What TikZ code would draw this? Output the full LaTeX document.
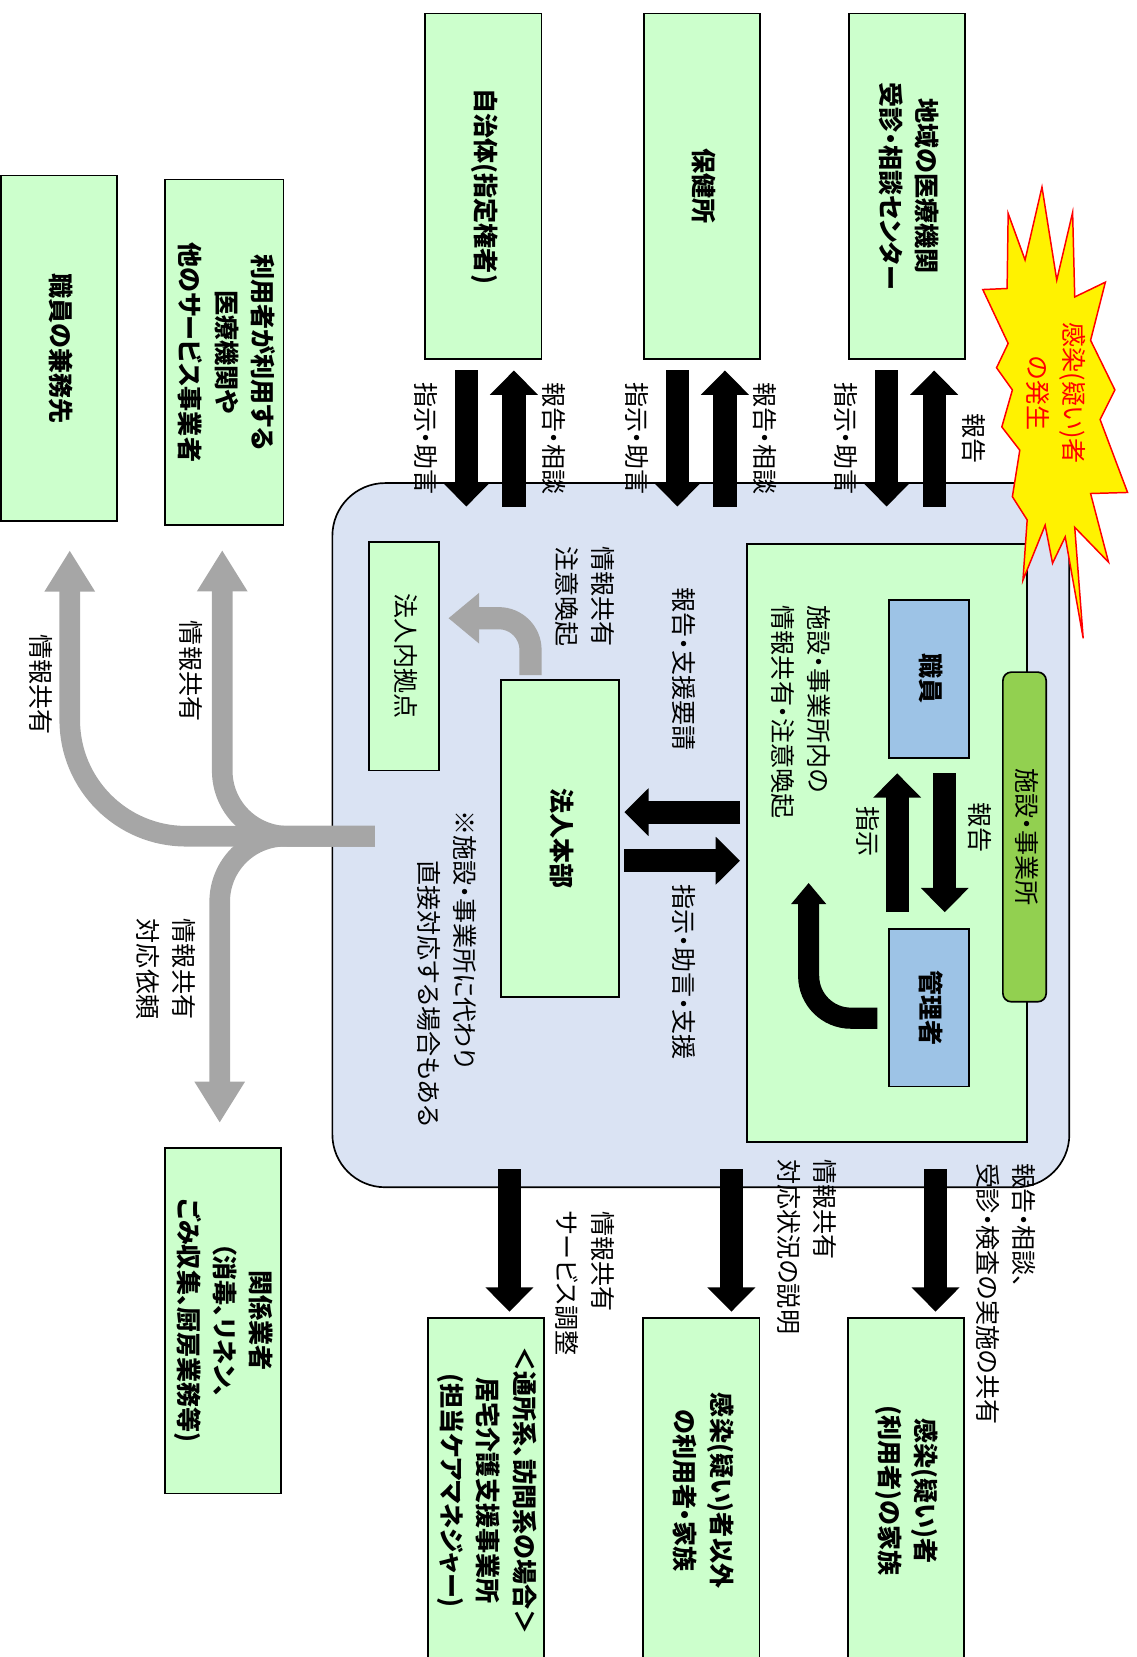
\documentclass[tikz,border=0pt]{standalone}
\usepackage{fontspec}
\setmainfont{Noto Sans CJK JP}[RawFeature=+palt]
\usepackage{graphicx}
\usetikzlibrary{arrows.meta,positioning,calc}

\definecolor{boxgreen}{HTML}{CCFFCC}
\definecolor{orgblue}{HTML}{DAE3F3}
\definecolor{staffblue}{HTML}{9DC3E6}
\definecolor{tabgreen}{HTML}{92D050}
\definecolor{flowgray}{HTML}{A6A6A6}

\newcommand{\fs}{\fontsize{13.5}{19.5}\selectfont}
\newcommand{\vt}[2][c]{\rotatebox{-90}{\begin{tabular}{@{}#1@{}}#2\end{tabular}}}

\begin{document}
\begin{tikzpicture}[
  x=0.02cm, y=-0.02cm,
  box/.style={draw,line width=0.9pt,fill=boxgreen,inner sep=0pt,font=\fs\bfseries,minimum width=2.2cm,minimum height=6.54cm},
  staff/.style={draw,line width=0.9pt,fill=staffblue,inner sep=0pt,font=\fs\bfseries,minimum width=1.52cm,minimum height=2.98cm},
  lbl/.style={inner sep=0pt,outer sep=0pt,font=\fs},
  blk/.style={line width=0.44cm,-{Triangle[width=0.88cm,length=0.46cm]}},
  tree/.style={draw=flowgray,line width=0.39cm,-{Triangle[width=0.9cm,length=0.78cm]}},
]
\useasboundingbox (0,0) rectangle (1075,1568);

% outside boxes
\node[box] (jichitai) at (457.3,176.3) {\vt{自治体(指定権者)}};
\node[box] (hokenjo) at (664.4,176.3) {\vt{保健所}};
\node[box] (iryo) at (858.3,176.3) {\vt{地域の医療機関\\受診・相談センター}};
\node[box] (kenmu) at (56,329.5) {\vt{職員の兼務先}};
\node[box,minimum width=2.24cm] (riyosha) at (212.3,333.3) {\vt{利用者が利用する\\医療機関や\\他のサービス事業者}};
\node[box] (kazoku) at (857.3,1410.5) {\vt{感染(疑い)者\\(利用者)の家族}};
\node[box] (igai) at (663.6,1410.5) {\vt{感染(疑い)者以外\\の利用者・家族}};
\node[box] (kyotaku) at (460.1,1410.5) {\vt{＜通所系、訪問系の場合＞\\居宅介護支援事業所\\(担当ケアマネジャー)}};
\node[box] (gyosha) at (210.9,1249.8) {\vt{関係業者\\（消毒、リネン、\\ごみ収集、厨房業務等)}};

% corporation
\node[draw,line width=0.9pt,fill=orgblue,rounded corners=1cm,minimum width=13.95cm,minimum height=13.33cm] (org) at (663.2,790.3) {};
\node[draw,line width=0.9pt,fill=boxgreen,minimum width=5.29cm,minimum height=11.32cm] (facility) at (839.3,798) {};
\node[draw,line width=0.9pt,fill=tabgreen,rounded corners=0.16cm,inner sep=0pt,minimum width=0.82cm,minimum height=6.24cm,font=\fs] (tab) at (969.5,792) {\vt{施設・事業所}};
\node[staff] (shokuin) at (879,642.5) {\vt{職員}};
\node[staff] (kanrisha) at (879,953.5) {\vt{管理者}};
\node[box,minimum width=2.24cm,minimum height=6cm] (honbu) at (530,793.5) {\vt{法人本部}};
\node[box,minimum width=1.33cm,minimum height=4.33cm,font=\fs] (kyoten) at (382.3,621) {\vt{法人内拠点}};

\node[lbl,anchor=north east] (fnote) at ($(facility.north west)+(84,59)$) {\vt[l]{施設・事業所内の\\情報共有・注意喚起}};
\node[lbl,anchor=north east] (lshare) at ($(honbu.north east)+(-1.4,-126)$) {\vt[l]{情報共有\\注意喚起}};
\node[lbl,anchor=north east] (note) at ($(honbu.west)+(-18,-26.5)$) {\vt[l]{※施設・事業所に代わり\\\hspace{2em}直接対応する場合もある}};

% top arrows
\draw[blk] ($(jichitai.south)+(-16,10)$) -- node[lbl,left=0.46cm] (l1) {\vt{指示・助言}} ($(jichitai.south |- org.north)+(-16,23)$);
\draw[blk] ($(jichitai.south |- org.north)+(29,23)$) -- node[lbl,right=0.37cm] (l2) {\vt{報告・相談}} ($(jichitai.south)+(29,10)$);
\draw[blk] ($(hokenjo.south)+(-23.4,10)$) -- node[lbl,left=0.46cm] (l3) {\vt{指示・助言}} ($(hokenjo.south |- org.north)+(-23.4,23)$);
\draw[blk] ($(hokenjo.south |- org.north)+(21.6,23)$) -- node[lbl,right=0.37cm] (l4) {\vt{報告・相談}} ($(hokenjo.south)+(21.6,10)$);
\draw[blk] ($(iryo.south)+(-19.3,10)$) -- node[lbl,left=0.46cm] (l5) {\vt{指示・助言}} ($(iryo.south |- org.north)+(-19.3,23)$);
\draw[blk] ($(iryo.south |- org.north)+(25.7,23)$) -- node[lbl,right=0.37cm] (l6) {\vt{報告}} ($(iryo.south)+(25.7,10)$);

% inside arrows
\draw[blk] ($(facility.west |- honbu.east)+(-6,-25)$) -- node[lbl,above=1.17cm] (l7) {\vt{報告・支援要請}} ($(honbu.east)+(4,-25)$);
\draw[blk] ($(honbu.east)+(4,21)$) -- node[lbl,below=0.45cm] (l8) {\vt{指示・助言・支援}} ($(facility.west |- honbu.east)+(-6,21)$);
\draw[blk] ($(shokuin.south)+(15,14)$) -- node[lbl,pos=0.39,right=0.29cm] (l9) {\vt{報告}} ($(kanrisha.north)+(15,-15)$);
\draw[blk] ($(kanrisha.north)+(-30,-15)$) -- node[lbl,pos=0.58,left=0.26cm] (l10) {\vt{指示}} ($(shokuin.south)+(-30,14)$);
\draw[blk,line width=0.4cm,-{Triangle[width=0.64cm,length=0.4cm]},rounded corners=0.8cm] ($(kanrisha.west)+(-10,10)$) -| ($(kanrisha.west)+(-75,-118)$);
\draw[tree,line width=0.42cm,-{Triangle[width=0.92cm,length=0.58cm]},rounded corners=0.6cm] ($(honbu.north)+(-28,-4)$) |- ($(kyoten.east)+(8,-36)$);

% bottom arrows
\draw[blk] ($(kazoku.north |- org.south)+(28,-18)$) -- ($(kazoku.north)+(28,-5)$);
\draw[blk] ($(igai.north |- org.south)+(28.5,-18)$) -- ($(igai.north)+(28.5,-5)$);
\draw[blk] ($(kyotaku.north |- org.south)+(22,-18)$) -- ($(kyotaku.north)+(22,-5)$);
\node[lbl,anchor=north west] (l11) at ($(kazoku.north)+(58,-145.5)$) {\vt[l]{報告・相談、\\受診・検査の実施の共有}};
\node[lbl,anchor=north west] (l12) at ($(igai.north)+(63.5,-149)$) {\vt[l]{情報共有\\対応状況の説明}};
\node[lbl,anchor=north west] (l13) at ($(kyotaku.north)+(57,-100)$) {\vt[l]{情報共有\\サービス調整}};

% gray branches
\coordinate (hub) at ($(org.west)+(41,1)$);
\draw[tree,rounded corners=2.2cm] (hub) -| ($(kenmu.south)+(10,27)$);
\draw[tree,rounded corners=1.24cm] (hub) -| ($(riyosha.south)+(-2,23)$);
\draw[tree,rounded corners=1.24cm] (hub) -| ($(gyosha.north)+(-3,-23)$);
\node[lbl,anchor=east] (l14) at ($(kenmu.south)+(-2,154)$) {\vt{情報共有}};
\node[lbl,anchor=east] (l15) at ($(riyosha.south)+(-16.5,137.5)$) {\vt{情報共有}};
\node[lbl,anchor=north east] (l16) at ($(gyosha.north)+(-22,-216)$) {\vt[l]{情報共有\\対応依頼}};

% outbreak
\filldraw[fill=yellow,draw=red,line width=0.8pt] (986,177) -- (1000,265) -- (1015,201) -- (1017,281) -- (1046,267) -- (1032,322) -- (1055,369) -- (1041,397) -- (1067,466) -- (1032,467) -- (1049,532) -- (1017,499) -- (1025,604) -- (1008,508) -- (996,533) -- (989,497) -- (968,549) -- (972,492) -- (958,470) -- (965,426) -- (948,404) -- (958,369) -- (943,348) -- (954,325) -- (930,274) -- (953,273) -- (954,202) -- (970,246) -- cycle;
\node[lbl,text=red] (outbreak) at (997,372) {\vt{感染(疑い)者\\の発生}};
\end{tikzpicture}
\end{document}
